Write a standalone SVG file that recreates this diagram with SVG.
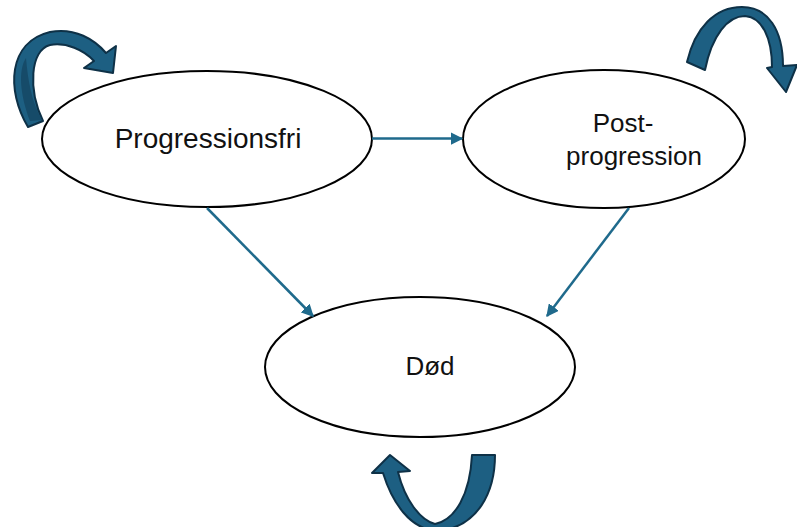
<svg xmlns="http://www.w3.org/2000/svg" width="797" height="527" viewBox="0 0 797 527">
  <defs>
    <marker id="ah" viewBox="0 0 10 10" refX="9" refY="5" markerWidth="5" markerHeight="5" orient="auto" markerUnits="strokeWidth">
      <path d="M0,0 L10,5 L0,10 Z" fill="#1f6a8c"/>
    </marker>
    <style>
      .node { fill: #ffffff; stroke: #000000; stroke-width: 2; }
      .lbl { font-family: "Liberation Sans", Arial, sans-serif; font-size: 26px; fill: #111111; }
      .big { font-size: 28px; }
      .conn { stroke: #1f6a8c; stroke-width: 2.5; fill: none; marker-end: url(#ah); }
      .loop { fill: #1d5f82; stroke: #0e3147; stroke-width: 2; stroke-linejoin: round; }
      .shade { fill: #164b69; stroke: none; }
    </style>
  </defs>

  <g id="node-progressionsfri">
    <ellipse class="node" cx="207" cy="139" rx="165" ry="68"/>
    <text class="lbl big" x="208" y="148" text-anchor="middle">Progressionsfri</text>
  </g>

  <g id="node-postprogression">
    <ellipse class="node" cx="604" cy="139" rx="141" ry="69"/>
    <text class="lbl" x="623" y="132" text-anchor="middle">Post-</text>
    <text class="lbl" x="634" y="165" text-anchor="middle">progression</text>
  </g>

  <g id="node-dod">
    <ellipse class="node" cx="420" cy="367" rx="155" ry="70"/>
    <text class="lbl" x="430" y="375" text-anchor="middle">Død</text>
  </g>

  <g id="connectors">
    <line class="conn" x1="372" y1="138.5" x2="462" y2="138.5"/>
    <line class="conn" x1="207" y1="208" x2="313" y2="316"/>
    <line class="conn" x1="629" y1="208" x2="547" y2="316"/>
  </g>

  <g id="loop-progressionsfri">
    <path class="loop" d="M28,127 C6,90 8,42 50,32 C75,27 95,40 106,53 L116,46 L113,73 L84,68 L94,61 C84,50 66,42 50,45 C30,50 28,90 43,121 Z"/>
    <path class="shade" d="M30,121 C20,95 18,70 26,58 C28,80 31,100 42,120 Z"/>
  </g>

  <g id="loop-postprogression">
    <path class="loop" d="M687,62 C695,28 715,7 742,7 C768,7 783,30 783,66 L797,65 L786,92 L767,68 L772,67 C772,38 762,17 745,16 C728,16 712,35 705,70 Z"/>
  </g>

  <g id="loop-dod">
    <path class="loop" d="M472,455 L495,455 C495,492 478,527 438,531 C410,530 392,502 383,473 L372,473 L390,455 L410,471 L398,472 C405,500 420,520 435,524 C455,520 470,495 472,455 Z"/>
  </g>
</svg>
